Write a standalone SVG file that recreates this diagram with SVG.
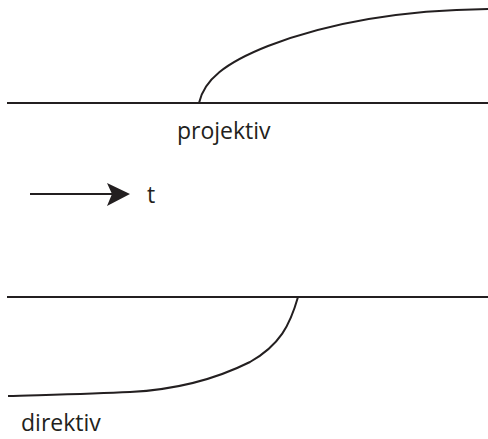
<svg xmlns="http://www.w3.org/2000/svg" width="488" height="439" viewBox="0 0 488 439">
<style>
.ln{fill:none;stroke:#231f20;stroke-width:2}
.lb{font-family:"Open Sans","Liberation Sans",sans-serif;font-size:23px;fill:#231f20}
</style>
<rect width="488" height="439" fill="#fff"/>
<g id="connectors">
<line class="ln" x1="7" y1="103" x2="488" y2="103"/>
<path class="ln" d="M199,103 C204,80 225,63 268,46 C330,22 400,10 488,9"/>
<line class="ln" x1="7" y1="297" x2="488" y2="297"/>
<path class="ln" d="M298,297 C290,325 280,345 250,362 C210,382 170,390 130,392 C90,394 40,395 8,396"/>
<line class="ln" x1="30" y1="194" x2="112" y2="194"/>
<path d="M130,194 L107,183 L112,194 L107,206 Z" fill="#231f20"/>
</g>
<g id="projektiv"><text class="lb" x="177" y="139">projektiv</text></g>
<g id="t"><text class="lb" x="147" y="203">t</text></g>
<g id="direktiv"><text class="lb" x="21" y="431">direktiv</text></g>
</svg>
